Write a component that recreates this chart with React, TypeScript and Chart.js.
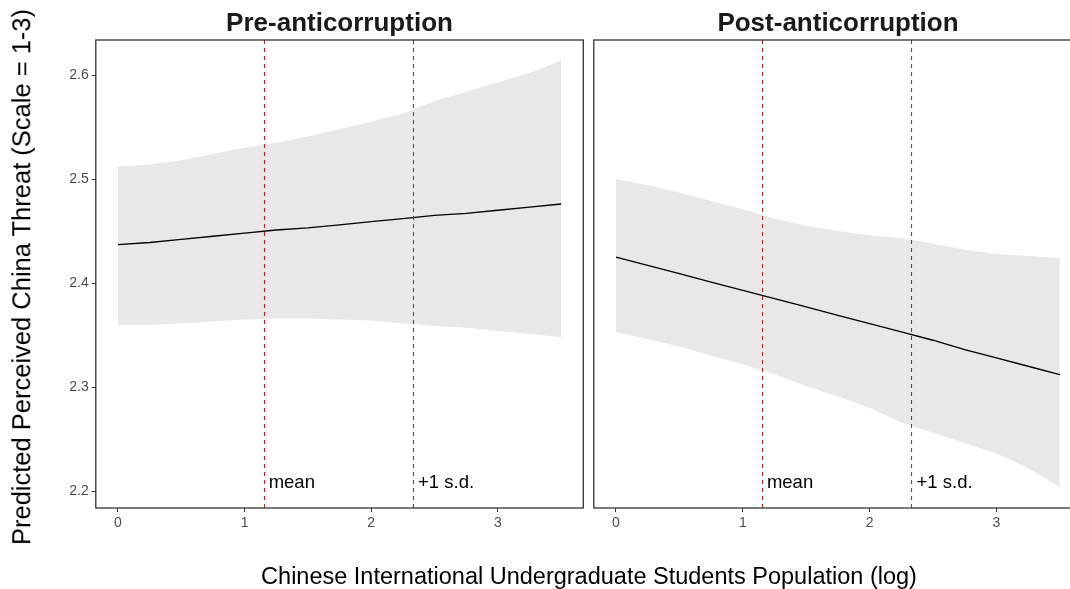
import React, { useEffect, useRef } from "react";
import { Chart, registerables } from "chart.js";

Chart.register(...registerables);

// ---------- data ----------
const xValues = [0, 0.25, 0.5, 0.75, 1, 1.25, 1.5, 1.75, 2, 2.25, 2.5, 2.75, 3, 3.25, 3.5];

const preFit = [2.437, 2.439, 2.442, 2.445, 2.448, 2.451, 2.453, 2.456, 2.459, 2.462, 2.465, 2.467, 2.47, 2.473, 2.476];
const preUpper = [2.512, 2.514, 2.518, 2.524, 2.53, 2.535, 2.541, 2.548, 2.555, 2.563, 2.575, 2.584, 2.593, 2.602, 2.614];
const preLower = [2.36, 2.36, 2.361, 2.363, 2.365, 2.366, 2.366, 2.365, 2.364, 2.361, 2.359, 2.357, 2.354, 2.351, 2.348];

const postFit = [2.425, 2.417, 2.409, 2.401, 2.393, 2.385, 2.377, 2.369, 2.361, 2.353, 2.345, 2.336, 2.328, 2.32, 2.312];
const postUpper = [2.5, 2.494, 2.487, 2.479, 2.471, 2.462, 2.455, 2.45, 2.446, 2.443, 2.438, 2.432, 2.428, 2.426, 2.424];
const postLower = [2.353, 2.346, 2.339, 2.33, 2.322, 2.312, 2.301, 2.291, 2.28, 2.266, 2.256, 2.246, 2.236, 2.222, 2.204];

const xTicks = [0, 1, 2, 3];
const yTicks = [2.2, 2.3, 2.4, 2.5, 2.6];
const refLines = [1.15, 2.33];
const refLabels = ["mean", "+1 s.d."];
const panelTitles = ["Pre-anticorruption", "Post-anticorruption"];
const yTitle = "Predicted Perceived China Threat (Scale = 1-3)";
const xTitle = "Chinese International Undergraduate Students Population (log)";

const X_MIN = -0.175;
const X_MAX = 3.675;
const Y_MIN = 2.1837;
const Y_MAX = 2.6337;
const LABEL_Y = 2.208;
const LABEL_DX = 0.04;

// ---------- styles ----------
const FONT = '"Liberation Sans", Arial, Helvetica, sans-serif';
const RIBBON = "#E8E8E8";
const VLINE = "#A52A2A";

const decorPlugin = {
  id: "panelDecor",
  afterDatasetsDraw(chart: any) {
    const { ctx, chartArea: a, scales } = chart;
    const x = scales.x;
    const y = scales.y;
    ctx.save();
    ctx.beginPath();
    ctx.rect(a.left, a.top, a.right - a.left, a.bottom - a.top);
    ctx.clip();
    ctx.strokeStyle = VLINE;
    ctx.lineWidth = 1.1;
    ctx.setLineDash([4, 4]);
    refLines.forEach((v) => {
      const px = Math.round(x.getPixelForValue(v)) + 0.5;
      ctx.beginPath();
      ctx.moveTo(px, a.bottom);
      ctx.lineTo(px, a.top);
      ctx.stroke();
    });
    ctx.setLineDash([]);
    ctx.fillStyle = "#000";
    ctx.font = `18.5px ${FONT}`;
    ctx.textAlign = "left";
    ctx.textBaseline = "middle";
    refLines.forEach((v, i) => {
      ctx.fillText(refLabels[i], x.getPixelForValue(v + LABEL_DX), y.getPixelForValue(LABEL_Y));
    });
    ctx.restore();
    ctx.save();
    ctx.strokeStyle = "#333333";
    ctx.lineWidth = 1.3;
    ctx.strokeRect(a.left, a.top, a.right - a.left, a.bottom - a.top);
    ctx.restore();
  },
};

type PanelProps = {
  fit: number[];
  upper: number[];
  lower: number[];
  showY: boolean;
  left: number;
  width: number;
  padLeft: number;
  padRight: number;
  yAxisWidth: number;
};

function Panel(p: PanelProps) {
  const ref = useRef<HTMLCanvasElement | null>(null);
  useEffect(() => {
    if (!ref.current) return;
    const pts = (arr: number[]) => arr.map((v, i) => ({ x: xValues[i], y: v }));
    const chart = new Chart(ref.current, {
      type: "line",
      data: {
        datasets: [
          {
            data: pts(p.fit),
            borderColor: "#000000",
            borderWidth: 1.3,
            pointRadius: 0,
            fill: false,
            tension: 0,
          },
          {
            data: pts(p.upper),
            borderWidth: 0,
            borderColor: "rgba(0,0,0,0)",
            backgroundColor: RIBBON,
            pointRadius: 0,
            fill: "+1",
            tension: 0,
          },
          {
            data: pts(p.lower),
            borderWidth: 0,
            borderColor: "rgba(0,0,0,0)",
            pointRadius: 0,
            fill: false,
            tension: 0,
          },
        ],
      },
      options: {
        animation: false,
        responsive: false,
        devicePixelRatio: 1,
        layout: { padding: { left: p.padLeft, right: p.padRight, top: 40, bottom: 0 } },
        plugins: { legend: { display: false }, tooltip: { enabled: false }, title: { display: false } },
        scales: {
          x: {
            type: "linear",
            min: X_MIN,
            max: X_MAX,
            afterBuildTicks: (s: any) => {
              s.ticks = xTicks.map((v) => ({ value: v }));
            },
            afterFit: (s: any) => {
              s.height = 81;
            },
            border: { display: false },
            grid: { display: true, drawOnChartArea: false, drawTicks: true, tickLength: 4, color: "#333333", lineWidth: 1 },
            ticks: {
              padding: 3,
              color: "#4D4D4D",
              font: { family: FONT, size: 14 },
              maxRotation: 0,
              callback: (v: any) => String(v),
            },
          },
          y: {
            type: "linear",
            display: p.showY,
            min: Y_MIN,
            max: Y_MAX,
            afterBuildTicks: (s: any) => {
              s.ticks = yTicks.map((v) => ({ value: v }));
            },
            afterFit: (s: any) => {
              s.width = p.yAxisWidth;
            },
            border: { display: false },
            grid: { display: true, drawOnChartArea: false, drawTicks: true, tickLength: 4, color: "#333333", lineWidth: 1 },
            ticks: {
              padding: 3,
              color: "#4D4D4D",
              font: { family: FONT, size: 14 },
              callback: (v: any) => Number(v).toFixed(1),
            },
          },
        },
      },
      plugins: [decorPlugin],
    } as any);
    return () => chart.destroy();
  }, []);
  return (
    <canvas
      ref={ref}
      width={p.width}
      height={589}
      style={{ position: "absolute", left: p.left, top: 0, width: p.width, height: 589 }}
    />
  );
}

const textBase: React.CSSProperties = {
  position: "absolute",
  fontFamily: FONT,
  whiteSpace: "nowrap",
  lineHeight: 1,
};

export default function App() {
  return (
    <div
      style={{
        position: "fixed",
        left: 0,
        top: 0,
        width: 1070,
        height: 589,
        overflow: "hidden",
        background: "#ffffff",
      }}
    >
      <Panel fit={preFit} upper={preUpper} lower={preLower} showY={true} left={0} width={600} padLeft={0} padRight={16.7} yAxisWidth={95.8} />
      <Panel fit={postFit} upper={postUpper} lower={postLower} showY={false} left={580} width={520} padLeft={13.8} padRight={18} yAxisWidth={0} />
      <div style={{ ...textBase, left: 339.5, top: 8.5, transform: "translateX(-50%)", fontSize: 26, fontWeight: "bold", color: "#1A1A1A" }}>
        {panelTitles[0]}
      </div>
      <div style={{ ...textBase, left: 838, top: 8.5, transform: "translateX(-50%)", fontSize: 26, fontWeight: "bold", color: "#1A1A1A" }}>
        {panelTitles[1]}
      </div>
      <div style={{ ...textBase, left: 589, top: 577, transform: "translate(-50%, -50%)", fontSize: 23.5, color: "#000" }}>
        {xTitle}
      </div>
      <div
        style={{
          ...textBase,
          left: 22,
          top: 277,
          transform: "translate(-50%, -50%) rotate(-90deg)",
          fontSize: 25.5,
          color: "#000",
        }}
      >
        {yTitle}
      </div>
    </div>
  );
}
